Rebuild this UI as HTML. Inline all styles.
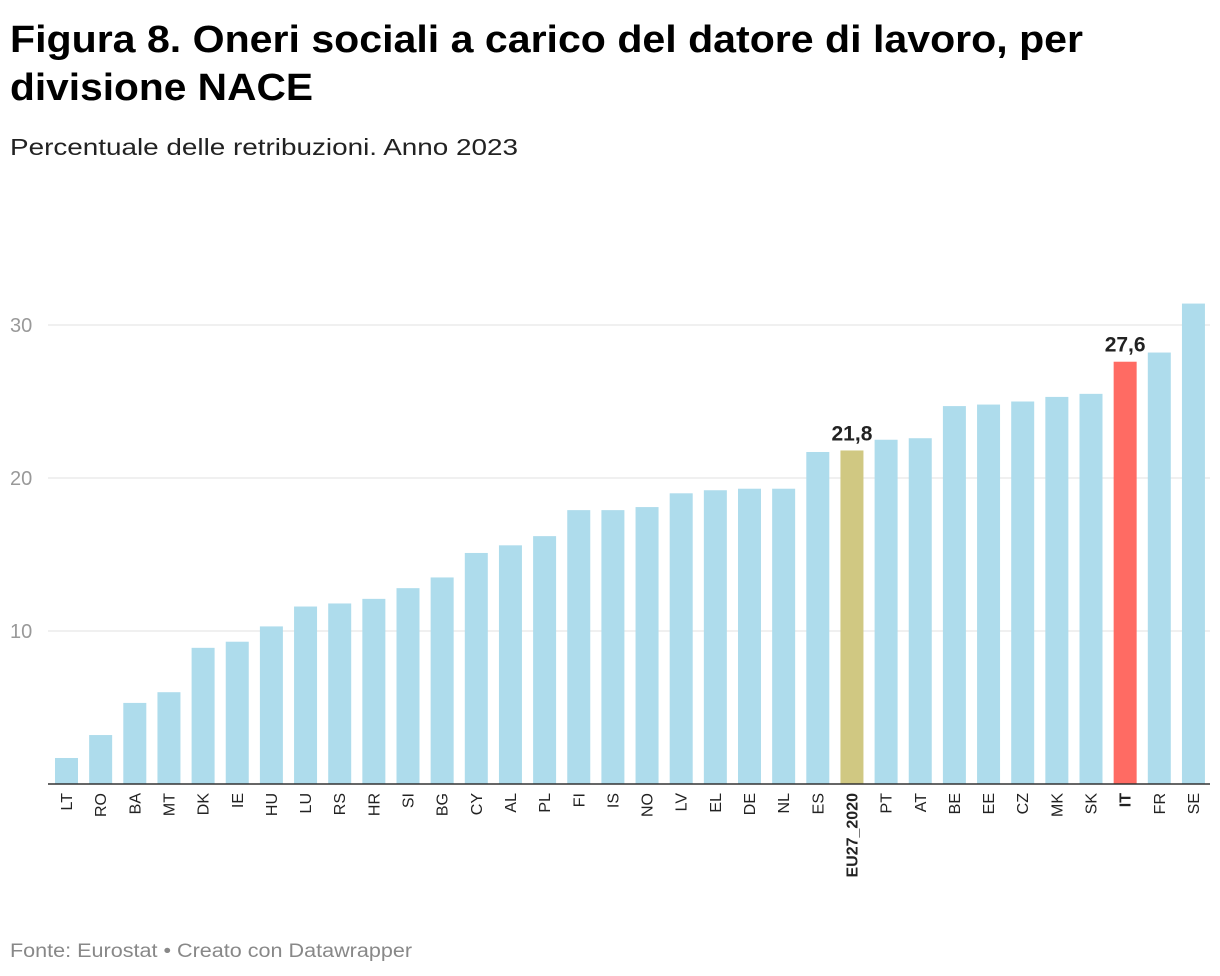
<!DOCTYPE html>
<html><head><meta charset="utf-8">
<style>
body{margin:0;background:#fff;font-family:"Liberation Sans",Arial,sans-serif;}
svg{display:block}
</style></head>
<body>
<svg width="1220" height="976">
<text x="10" y="52" font-size="38" font-weight="bold" fill="#000" textLength="1073" lengthAdjust="spacingAndGlyphs">Figura 8. Oneri sociali a carico del datore di lavoro, per</text>
<text x="10" y="100" font-size="38" font-weight="bold" fill="#000" textLength="303" lengthAdjust="spacingAndGlyphs">divisione NACE</text>
<text x="10" y="155" font-size="23" fill="#222" textLength="508" lengthAdjust="spacingAndGlyphs">Percentuale delle retribuzioni. Anno 2023</text>
<g id="grid"></g>
<g id="bars"></g>
<text x="10" y="957" font-size="19" fill="#888" textLength="402" lengthAdjust="spacingAndGlyphs">Fonte: Eurostat • Creato con Datawrapper</text>
</svg>
<script>
const categories=["LT","RO","BA","MT","DK","IE","HU","LU","RS","HR","SI","BG","CY","AL","PL","FI","IS","NO","LV","EL","DE","NL","ES","EU27_2020","PT","AT","BE","EE","CZ","MK","SK","IT","FR","SE"];
const values=[1.7,3.2,5.3,6.0,8.9,9.3,10.3,11.6,11.8,12.1,12.8,13.5,15.1,15.6,16.2,17.9,17.9,18.1,19.0,19.2,19.3,19.3,21.7,21.8,22.5,22.6,24.7,24.8,25.0,25.3,25.5,27.6,28.2,31.4];
const yTicks=[10,20,30];
const highlights={"EU27_2020":"#d0c882","IT":"#ff6b63"};
const labelled=["EU27_2020","IT"];
const NS="http://www.w3.org/2000/svg";
const y=v=>784-v*15.3;
const x=i=>55+i*34.15;
const bw=23;
const grid=document.getElementById('grid');
const bars=document.getElementById('bars');
function mk(t,a,p){const e=document.createElementNS(NS,t);for(const k in a)e.setAttribute(k,a[k]);p.appendChild(e);return e;}
yTicks.forEach(t=>{
 const l=mk('line',{x1:48,x2:1210,y1:y(t),y2:y(t),stroke:'#e0e0e0','stroke-width':1},grid);
 
 
 const tx=mk('text',{x:10,y:y(t)+7,'font-size':20,fill:'#999'},grid);tx.textContent=t;
 
 
});
categories.forEach((c,i)=>{
 const v=values[i];
 const r=mk('rect',{x:x(i),y:y(v),width:bw,height:784-y(v),fill:highlights[c]||'#aedcec'},bars);
 
 
 const cx=x(i)+bw/2;
 const bold=labelled.includes(c);
 const t=mk('text',{x:0,y:0,'font-size':16,fill:'#222','font-weight':bold?'bold':'normal','text-anchor':'end',transform:`translate(${cx+5.5},793) rotate(-90)`},bars);
 t.textContent=c;
 
 
 if(bold){
  const vl=mk('text',{x:cx,y:y(v)-10,'font-size':21,'font-weight':'bold',fill:'#222','text-anchor':'middle'},bars);
  vl.textContent=v.toFixed(1).replace('.',',');
  
  
 }
});
const ax=mk('line',{x1:48,x2:1210,y1:784,y2:784,stroke:'#333','stroke-width':1.5},bars);


</script>
</body></html>
